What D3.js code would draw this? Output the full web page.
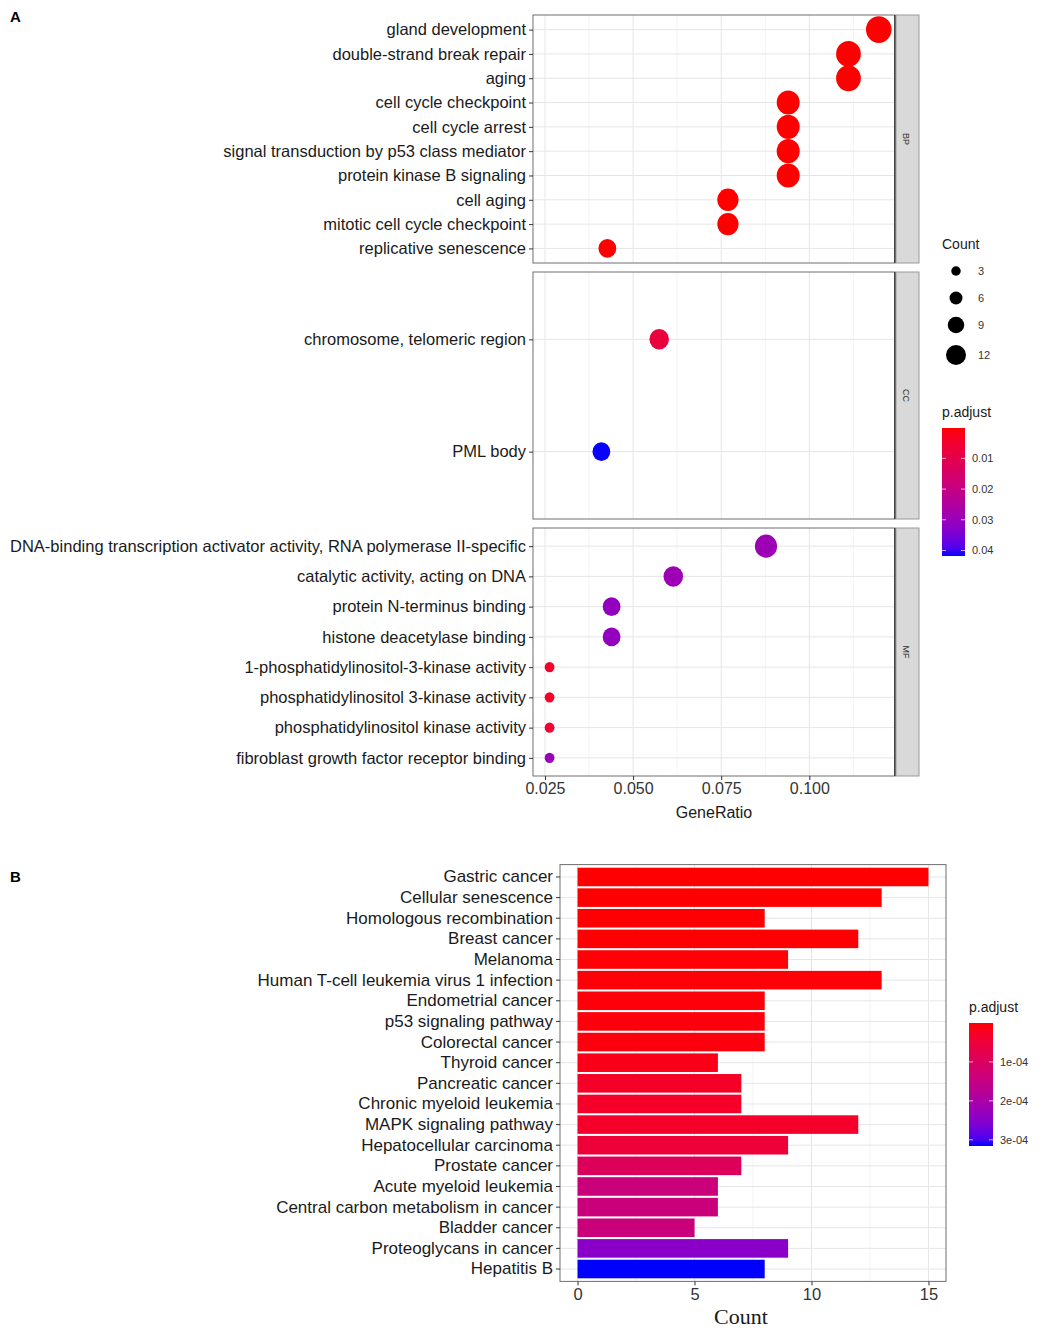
<!DOCTYPE html>
<html>
<head>
<meta charset="utf-8">
<script src="https://cdn.jsdelivr.net/npm/d3@7"></script>
<style>
  body { margin: 0; background: #fff; }
</style>
</head>
<body>
<div id="chart"></div>
<script>
// ---- panel A data (GO enrichment dot plot) ----
var goOntology = ["BP", "CC", "MF"];
var bpTerms = ["gland development", "double-strand break repair", "aging", "cell cycle checkpoint",
  "cell cycle arrest", "signal transduction by p53 class mediator", "protein kinase B signaling",
  "cell aging", "mitotic cell cycle checkpoint", "replicative senescence"];
var bpRatio = [0.1197, 0.1111, 0.1111, 0.0940, 0.0940, 0.0940, 0.0940, 0.0769, 0.0769, 0.0427];
var bpCount = [14, 13, 13, 11, 11, 11, 11, 9, 9, 5];
var bpPadj  = [0.00001, 0.00001, 0.00001, 0.00001, 0.00001, 0.00001, 0.00001, 0.00001, 0.00001, 0.00002];
var ccTerms = ["chromosome, telomeric region", "PML body"];
var ccRatio = [0.0574, 0.0410];
var ccCount = [7, 5];
var ccPadj  = [0.0075, 0.0417];
var mfTerms = ["DNA-binding transcription activator activity, RNA polymerase II-specific",
  "catalytic activity, acting on DNA", "protein N-terminus binding", "histone deacetylase binding",
  "1-phosphatidylinositol-3-kinase activity", "phosphatidylinositol 3-kinase activity",
  "phosphatidylinositol kinase activity", "fibroblast growth factor receptor binding"];
var mfRatio = [0.0877, 0.0614, 0.0439, 0.0439, 0.0263, 0.0263, 0.0263, 0.0263];
var mfCount = [10, 7, 5, 5, 3, 3, 3, 3];
var mfPadj  = [0.029, 0.029, 0.031, 0.031, 0.0045, 0.0045, 0.006, 0.030];
var ratioTicks = [0.025, 0.050, 0.075, 0.100];
var countLegend = [3, 6, 9, 12];
var padjTicksA = [0.01, 0.02, 0.03, 0.04];

// ---- panel B data (KEGG bar plot) ----
var keggTerms = ["Gastric cancer", "Cellular senescence", "Homologous recombination", "Breast cancer",
  "Melanoma", "Human T-cell leukemia virus 1 infection", "Endometrial cancer", "p53 signaling pathway",
  "Colorectal cancer", "Thyroid cancer", "Pancreatic cancer", "Chronic myeloid leukemia",
  "MAPK signaling pathway", "Hepatocellular carcinoma", "Prostate cancer", "Acute myeloid leukemia",
  "Central carbon metabolism in cancer", "Bladder cancer", "Proteoglycans in cancer", "Hepatitis B"];
var keggCount = [15, 13, 8, 12, 9, 13, 8, 8, 8, 6, 7, 7, 12, 9, 7, 6, 6, 5, 9, 8];
var keggPadj = [2e-7, 5e-7, 1.5e-6, 2e-6, 3e-6, 4e-6, 5e-6, 6e-6, 7e-6, 1.4e-5, 2.8e-5, 3e-5,
  3.2e-5, 5e-5, 9.5e-5, 1.38e-4, 1.38e-4, 1.4e-4, 2.45e-4, 3.16e-4];
var countTicks = [0, 5, 10, 15];
var padjTicksB = [1e-4, 2e-4, 3e-4];

var W = 1042, H = 1339;
var SANS = "Liberation Sans, Arial, sans-serif";
var svg = d3.select("#chart").append("svg").attr("width", W).attr("height", H)
    .style("font-family", SANS);
svg.append("rect").attr("width", W).attr("height", H).attr("fill", "#fff");

var txt = "#1a1a1a", gridMaj = "#e6e6e6", gridMin = "#f3f3f3", border = "#6e6e6e";

function colorScale(dom){
    return d3.scaleLinear().domain(dom).range(["#ff0000", "#0000ff"]).interpolate(d3.interpolateLab);
}

// colourbar legend, shared by both panels
function colorbar(id, x, y, w, h, dom, ticks, title, fmt){
    var col = colorScale(dom);
    var grad = svg.append("defs").append("linearGradient").attr("id", id)
        .attr("x1", 0).attr("y1", 0).attr("x2", 0).attr("y2", 1);
    d3.range(0, 1.0001, 0.05).forEach(function(t){
        grad.append("stop").attr("offset", t).attr("stop-color", col(dom[0] + t*(dom[1]-dom[0])));
    });
    svg.append("text").attr("x", x).attr("y", y - 11).attr("font-size", 14).attr("fill", txt).text(title);
    svg.append("rect").attr("x", x).attr("y", y).attr("width", w).attr("height", h).attr("fill", "url(#" + id + ")");
    var s = d3.scaleLinear().domain(dom).range([y, y + h]);
    ticks.forEach(function(t){
        svg.append("line").attr("x1", x).attr("x2", x + 4).attr("y1", s(t)).attr("y2", s(t)).attr("stroke", "#fff").attr("stroke-opacity", 0.7);
        svg.append("line").attr("x1", x + w - 4).attr("x2", x + w).attr("y1", s(t)).attr("y2", s(t)).attr("stroke", "#fff").attr("stroke-opacity", 0.7);
        svg.append("text").attr("x", x + w + 7).attr("y", s(t)).attr("dy", "0.35em")
            .attr("font-size", 11).attr("fill", "#333").text(fmt(t));
    });
}

//---------------------------------------------------------------------
// Panel A
var xA = d3.scaleLinear().domain([0.0216, 0.1243]).range([533, 895]);
var facets = [
  {name: "BP", terms: bpTerms, ratio: bpRatio, count: bpCount, padj: bpPadj, top: 15, bottom: 263},
  {name: "CC", terms: ccTerms, ratio: ccRatio, count: ccCount, padj: ccPadj, top: 272, bottom: 519},
  {name: "MF", terms: mfTerms, ratio: mfRatio, count: mfCount, padj: mfPadj, top: 528, bottom: 776}
];
var rA = d3.scaleLinear().domain([3, 5, 14]).range([4.9, 8.9, 12.8]);
var rLegend = d3.scaleLinear().domain([3, 12]).range([4.75, 10]);
var padjDomA = [0.0001, 0.0418];
var colA = colorScale(padjDomA);

facets.forEach(function(f){
    var y = d3.scalePoint().domain(f.terms).range([f.top, f.bottom]).padding(0.6);
    var g = svg.append("g");
    // minor + major vertical grid
    d3.range(0.0375, 0.124, 0.025).forEach(function(v){
        g.append("line").attr("x1", xA(v)).attr("x2", xA(v)).attr("y1", f.top).attr("y2", f.bottom).attr("stroke", gridMin);
    });
    ratioTicks.forEach(function(v){
        g.append("line").attr("x1", xA(v)).attr("x2", xA(v)).attr("y1", f.top).attr("y2", f.bottom).attr("stroke", gridMaj);
    });
    f.terms.forEach(function(t){
        g.append("line").attr("x1", xA.range()[0]).attr("x2", xA.range()[1]).attr("y1", y(t)).attr("y2", y(t)).attr("stroke", gridMaj);
    });
    g.append("rect").attr("x", 533).attr("y", f.top).attr("width", 362).attr("height", f.bottom - f.top)
        .attr("fill", "none").attr("stroke", border);
    g.append("line").attr("x1", 895).attr("x2", 895).attr("y1", f.top).attr("y2", f.bottom).attr("stroke", "#222").attr("stroke-width", 1.5);
    // strip
    g.append("rect").attr("x", 896).attr("y", f.top).attr("width", 23).attr("height", f.bottom - f.top)
        .attr("fill", "#d9d9d9").attr("stroke", "#9a9a9a");
    g.append("text").attr("transform", "translate(903," + (f.top + f.bottom)/2 + ") rotate(90)")
        .attr("text-anchor", "middle").attr("font-size", 9).attr("fill", "#333").text(f.name);
    // y axis
    var ax = g.append("g").attr("transform", "translate(533,0)")
        .call(d3.axisLeft(y).tickSize(4).tickPadding(3));
    ax.select(".domain").remove();
    ax.selectAll("line").attr("stroke", "#333");
    ax.selectAll("text").attr("font-size", 16.5).attr("fill", txt).style("font-family", SANS);
    // dots (picture is slightly stretched vertically)
    g.selectAll("ellipse").data(f.terms).enter().append("ellipse")
        .attr("cx", function(d, i){ return xA(f.ratio[i]); })
        .attr("cy", function(d){ return y(d); })
        .attr("rx", function(d, i){ return rA(f.count[i]); })
        .attr("ry", function(d, i){ return rA(f.count[i]) * 1.05; })
        .attr("fill", function(d, i){ return colA(f.padj[i]); });
});

var axA = svg.append("g").attr("transform", "translate(0,776)")
    .call(d3.axisBottom(xA).tickValues(ratioTicks).tickFormat(d3.format(".3f")).tickSize(4).tickPadding(3));
axA.select(".domain").remove();
axA.selectAll("line").attr("stroke", "#333");
axA.selectAll("text").attr("font-size", 16).attr("fill", "#333").style("font-family", SANS);
svg.append("text").attr("x", 714).attr("y", 818).attr("text-anchor", "middle").attr("font-size", 16).attr("fill", txt).text("GeneRatio");

// size legend
svg.append("text").attr("x", 942).attr("y", 249).attr("font-size", 14).attr("fill", txt).text("Count");
var legY = [271, 298, 325, 355];
countLegend.forEach(function(c, i){
    svg.append("circle").attr("cx", 956).attr("cy", legY[i]).attr("r", rLegend(c)).attr("fill", "#000");
    svg.append("text").attr("x", 978).attr("y", legY[i]).attr("dy", "0.35em").attr("font-size", 11).attr("fill", "#333").text(c);
});
colorbar("gradA", 942, 428, 23, 128, padjDomA, padjTicksA, "p.adjust", d3.format(".2f"));

svg.append("text").attr("x", 10).attr("y", 22).attr("font-size", 15).attr("font-weight", "bold").text("A");
svg.append("text").attr("x", 10).attr("y", 882).attr("font-size", 15).attr("font-weight", "bold").text("B");

//---------------------------------------------------------------------
// Panel B
var xB = d3.scaleLinear().domain([-0.75, 15.75]).range([560, 946]);
var yB = d3.scaleBand().domain(keggTerms).range([864.6, 1281.4]).paddingInner(0.1).paddingOuter(0.15);
var padjDomB = [0, 3.16e-4];
var colB = colorScale(padjDomB);
var gB = svg.append("g");
d3.range(2.5, 15.75, 5).forEach(function(v){
    gB.append("line").attr("x1", xB(v)).attr("x2", xB(v)).attr("y1", 864.6).attr("y2", 1281.4).attr("stroke", gridMin);
});
countTicks.forEach(function(v){
    gB.append("line").attr("x1", xB(v)).attr("x2", xB(v)).attr("y1", 864.6).attr("y2", 1281.4).attr("stroke", gridMaj);
});
keggTerms.forEach(function(t){
    var cy = yB(t) + yB.bandwidth()/2;
    gB.append("line").attr("x1", 560).attr("x2", 946).attr("y1", cy).attr("y2", cy).attr("stroke", gridMaj);
});
gB.selectAll(".bar").data(keggTerms).enter().append("rect").attr("class", "bar")
    .attr("x", xB(0))
    .attr("y", function(d){ return yB(d); })
    .attr("width", function(d, i){ return xB(keggCount[i]) - xB(0); })
    .attr("height", yB.bandwidth())
    .attr("fill", function(d, i){ return colB(keggPadj[i]); });
gB.append("rect").attr("x", 560).attr("y", 864.6).attr("width", 386).attr("height", 416.8)
    .attr("fill", "none").attr("stroke", border);
var ayB = gB.append("g").attr("transform", "translate(560,0)").call(d3.axisLeft(yB).tickSize(4).tickPadding(3));
ayB.select(".domain").remove();
ayB.selectAll("line").attr("stroke", "#333");
ayB.selectAll("text").attr("font-size", 17).attr("fill", txt).style("font-family", SANS);
var axB = gB.append("g").attr("transform", "translate(0,1281.4)")
    .call(d3.axisBottom(xB).tickValues(countTicks).tickSize(4).tickPadding(3));
axB.select(".domain").remove();
axB.selectAll("line").attr("stroke", "#333");
axB.selectAll("text").attr("font-size", 16.5).attr("fill", "#333").style("font-family", SANS);
svg.append("text").attr("x", 741).attr("y", 1324).attr("text-anchor", "middle")
    .style("font-family", "Liberation Serif, Times New Roman, serif").attr("font-size", 22).attr("fill", txt).text("Count");

colorbar("gradB", 969, 1023, 24, 123, padjDomB, padjTicksB, "p.adjust", function(t){ return d3.format(".0e")(t).replace("e-4", "e-04"); });
</script>
</body>
</html>
